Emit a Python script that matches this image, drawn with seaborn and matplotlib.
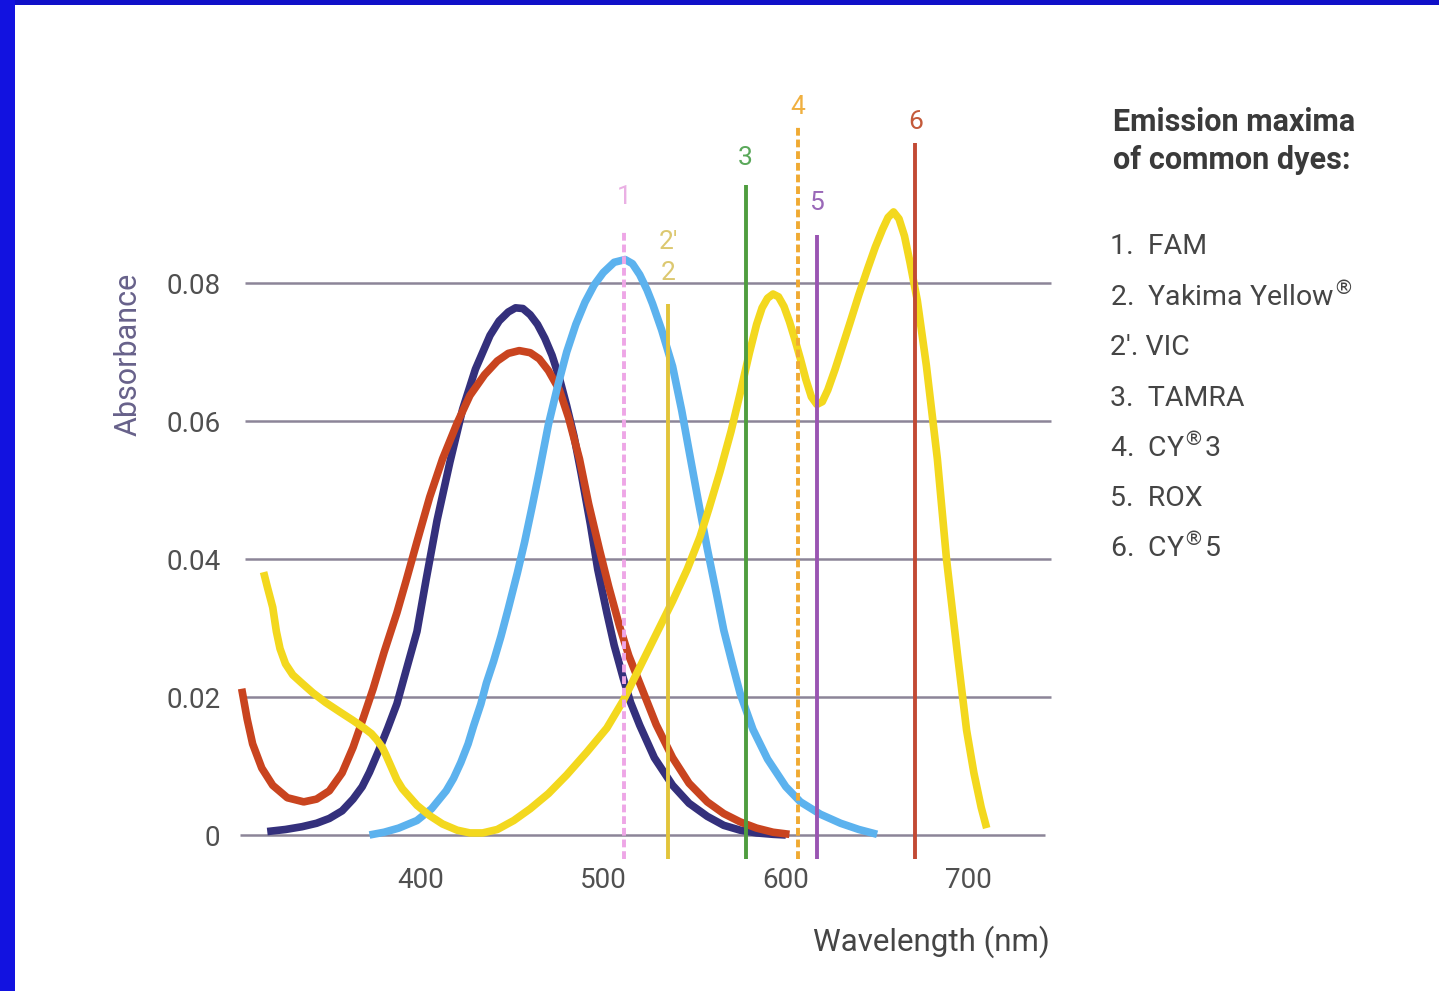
import numpy as np
import pandas as pd
import matplotlib
matplotlib.use("Agg")
import matplotlib.pyplot as plt
from matplotlib.patches import Rectangle
import seaborn as sns

# ---------------- data ----------------
navy_wl = [316, 326, 335, 343, 350, 357, 363, 368, 372, 377, 382, 387, 392, 398, 403,
           409, 416, 423, 430, 438, 443, 448, 452, 456, 460, 464, 468, 472, 476, 480,
           484, 488, 493, 497, 502, 506, 511, 515, 520, 528, 538, 547, 557, 566, 575,
           584, 593, 600]
navy_abs = [0.0005, 0.0008, 0.0012, 0.0017, 0.0024, 0.0035, 0.0052, 0.0070, 0.0091,
            0.0122, 0.0155, 0.0190, 0.0238, 0.0295, 0.0370, 0.0456, 0.0540, 0.0617,
            0.0675, 0.0724, 0.0745, 0.0758, 0.0764, 0.0763, 0.0754, 0.0740, 0.0720,
            0.0695, 0.0662, 0.0622, 0.0578, 0.0523, 0.0450, 0.0385, 0.0322, 0.0275,
            0.0227, 0.0192, 0.0159, 0.0112, 0.0072, 0.0046, 0.0027, 0.0014, 0.0007,
            0.0003, 0.0001, 0.0]

red_wl = [302, 305, 308, 313, 319, 327, 336, 343, 350, 357, 363, 368, 374, 380, 387,
          392, 398, 405, 412, 420, 427, 435, 442, 448, 454, 460, 465, 470, 476, 481,
          487, 492, 498, 503, 509, 514, 520, 529, 538, 547, 557, 566, 575, 584, 593, 602]
red_abs = [0.0212, 0.0168, 0.0132, 0.0097, 0.0072, 0.0054, 0.0048, 0.0052, 0.0064,
           0.0090, 0.0127, 0.0165, 0.0212, 0.0265, 0.0322, 0.0368, 0.0425, 0.0490,
           0.0545, 0.0597, 0.0637, 0.0667, 0.0687, 0.0698, 0.0702, 0.0699, 0.0690,
           0.0673, 0.0645, 0.0605, 0.0545, 0.0480, 0.0413, 0.0360, 0.0302, 0.0260,
           0.0220, 0.0160, 0.0112, 0.0075, 0.0048, 0.0031, 0.0019, 0.0010, 0.0004, 0.0001]

blue_wl = [372, 380, 388, 398, 406, 414, 418, 422, 426, 429, 433, 436, 440, 444, 448,
           453, 457, 461, 465, 470, 475, 480, 485, 490, 495, 500, 506, 512, 516, 520,
           524, 527, 532, 538, 543, 547, 552, 557, 562, 566, 571, 575, 582, 590, 600,
           608, 619, 630, 640, 650]
blue_abs = [0.0, 0.0004, 0.0010, 0.0021, 0.0038, 0.0064, 0.0082, 0.0105, 0.0132,
            0.0158, 0.0190, 0.0220, 0.0252, 0.0288, 0.0328, 0.0380, 0.0425, 0.0475,
            0.0527, 0.0595, 0.0650, 0.0700, 0.0740, 0.0772, 0.0797, 0.0815, 0.0830,
            0.0834, 0.0828, 0.0812, 0.0790, 0.0770, 0.0732, 0.0679, 0.0615, 0.0557,
            0.0485, 0.0415, 0.0350, 0.0297, 0.0245, 0.0205, 0.0153, 0.0110, 0.0070,
            0.0048, 0.0030, 0.0017, 0.0008, 0.0001]

yellow_wl = [314, 316, 319, 321, 323, 326, 330, 335, 341, 348, 356, 363, 369, 373,
             376, 379, 381, 384, 387, 390, 394, 398, 405, 412, 420, 427, 434, 442,
             451, 460, 470, 480, 491, 502, 511, 520, 529, 538, 546, 553, 558, 564,
             570, 575, 580, 584, 587, 590, 593, 596, 599, 602, 605, 608, 611, 614,
             617, 620, 623, 627, 631, 635, 640, 645, 649, 653, 656, 659, 662, 665,
             668, 672, 677, 683, 688, 694, 699, 703, 707, 710]
yellow_abs = [0.0381, 0.0360, 0.0330, 0.0295, 0.0270, 0.0248, 0.0232, 0.0220, 0.0206,
              0.0192, 0.0178, 0.0166, 0.0155, 0.0147, 0.0138, 0.0127, 0.0116, 0.0098,
              0.0080, 0.0067, 0.0055, 0.0043, 0.0028, 0.0016, 0.0007, 0.0003, 0.0003,
              0.0008, 0.0021, 0.0038, 0.0060, 0.0087, 0.0120, 0.0155, 0.0195, 0.0243,
              0.0291, 0.0339, 0.0385, 0.0432, 0.0474, 0.0527, 0.0585, 0.0640, 0.0698,
              0.0740, 0.0764, 0.0778, 0.0784, 0.0780, 0.0766, 0.0744, 0.0718, 0.0690,
              0.0660, 0.0635, 0.0624, 0.0628, 0.0645, 0.0675, 0.0708, 0.0741, 0.0783,
              0.0822, 0.0852, 0.0878, 0.0895, 0.0903, 0.0893, 0.0868, 0.0830, 0.0775,
              0.0680, 0.0545, 0.0400, 0.0262, 0.0152, 0.0090, 0.0040, 0.0010]

# emission maxima markers
dye_labels = ["1", "2", "3", "4", "5", "6"]
dye_wl = [511.5, 535.5, 578, 606.5, 617, 671]
dye_top = [0.0877, 0.0769, 0.0942, 0.1027, 0.0870, 0.1003]
dye_label_y = [0.0925, 0.0814, 0.0981, 0.1055, 0.0916, 0.1034]
vic_label = "2'"
vic_label_y = 0.0860

legend_title = ["Emission maxima", "of common dyes:"]
legend_items = ["1.  FAM", "2.  Yakima Yellow$^{®}$", "2'. VIC", "3.  TAMRA",
                "4.  CY$^{®}$3", "5.  ROX", "6.  CY$^{®}$5"]

y_ticks = [0, 0.02, 0.04, 0.06, 0.08]
y_ticklabels = ["0", "0.02", "0.04", "0.06", "0.08"]
x_ticks = [400, 500, 600, 700]
x_ticklabels = ["400", "500", "600", "700"]

# ---------------- style ----------------
sns.set_theme(style="white")
plt.rcParams["font.family"] = ["Roboto", "DejaVu Sans"]

W, H = 1439, 991
fig = plt.figure(figsize=(W / 100, H / 100), dpi=100)
fig.patch.set_facecolor("white")

ax_left, ax_right = 228.9, 1059.7
ax_top, ax_bot = 76.0, 862.6
ax = fig.add_axes([ax_left / W, 1 - ax_bot / H, (ax_right - ax_left) / W, (ax_bot - ax_top) / H])
ax.set_facecolor("none")
ax.set_xlim(295, 750)
ax.set_ylim(-0.004, 0.11)

grid_col = "#8c8598"
ax.hlines(y_ticks[1:], 304, 745, colors=grid_col, lw=1.8, zorder=1)
ax.hlines([0], 301, 742, colors=grid_col, lw=1.8, zorder=1)

curves = [
    (navy_wl, navy_abs, "#34307c"),
    (red_wl, red_abs, "#c9441f"),
    (blue_wl, blue_abs, "#5cb2ee"),
    (yellow_wl, yellow_abs, "#f3d81e"),
]
for wl, ab, col in curves:
    df = pd.DataFrame({"wl": wl, "abs": ab})
    sns.lineplot(data=df, x="wl", y="abs", ax=ax, color=col, lw=5.5,
                 sort=False, estimator=None, zorder=3,
                 solid_capstyle="butt", solid_joinstyle="round")

dye_cols = ["#eea6e6", "#e2c43a", "#4f9d3f", "#f0aa32", "#9a55b2", "#c24a34"]
dye_styles = [(0, (2, 1)), "-", "-", (0, (2, 1)), "-", "-"]
label_cols = ["#eab0e4", "#dcc870", "#5aa85a", "#f0b040", "#9a68b8", "#c45a3a"]
for wl, top, col, ls in zip(dye_wl, dye_top, dye_cols, dye_styles):
    ax.vlines(wl, -0.0035, top, colors=col, lw=2.8, linestyles=ls, zorder=4)
for lab, wl, ly, col in zip(dye_labels, dye_wl, dye_label_y, label_cols):
    ax.text(wl, ly, lab, color=col, fontsize=19, ha="center", va="center", zorder=5)
ax.text(dye_wl[1], vic_label_y, vic_label, color=label_cols[1], fontsize=19,
        ha="center", va="center", zorder=5)

ax.set_xticks(x_ticks)
ax.set_xticklabels(x_ticklabels)
ax.set_yticks(y_ticks)
ax.set_yticklabels(y_ticklabels)
ax.tick_params(axis="both", length=0, labelsize=20, labelcolor="#505050")
ax.tick_params(axis="x", pad=3)
ax.tick_params(axis="y", pad=6)
for s in ax.spines.values():
    s.set_visible(False)
ax.grid(False)

ax.set_xlabel("Wavelength (nm)", fontsize=22.5, color="#454545", ha="right")
ax.xaxis.set_label_coords((1050 - ax_left) / (ax_right - ax_left),
                          (ax_bot - 925) / (ax_bot - ax_top))
ax.set_ylabel("")
fig.text(128 / W, 1 - 354 / H, "Absorbance", rotation=90, fontsize=22,
         color="#67618a", ha="center", va="center")

fig.text(1113 / W, 1 - 122 / H, legend_title[0], fontsize=22, fontweight="bold",
         color="#3a3a3a", ha="left", va="center")
fig.text(1113 / W, 1 - 160 / H, legend_title[1], fontsize=22, fontweight="bold",
         color="#3a3a3a", ha="left", va="center")
item_y = [246, 297, 347, 398, 448, 498, 548]
for txt, yy in zip(legend_items, item_y):
    fig.text(1110 / W, 1 - yy / H, txt, fontsize=20.5, color="#454545",
             ha="left", va="center")

fig.patches.append(Rectangle((0, 1 - 5 / H), 1, 5 / H, transform=fig.transFigure,
                             facecolor="#1010c8", edgecolor="none", zorder=10))
fig.patches.append(Rectangle((0, 0), 15 / W, 1, transform=fig.transFigure,
                             facecolor="#1212e0", edgecolor="none", zorder=10))

fig.savefig("out.png", dpi=100, facecolor="white")
